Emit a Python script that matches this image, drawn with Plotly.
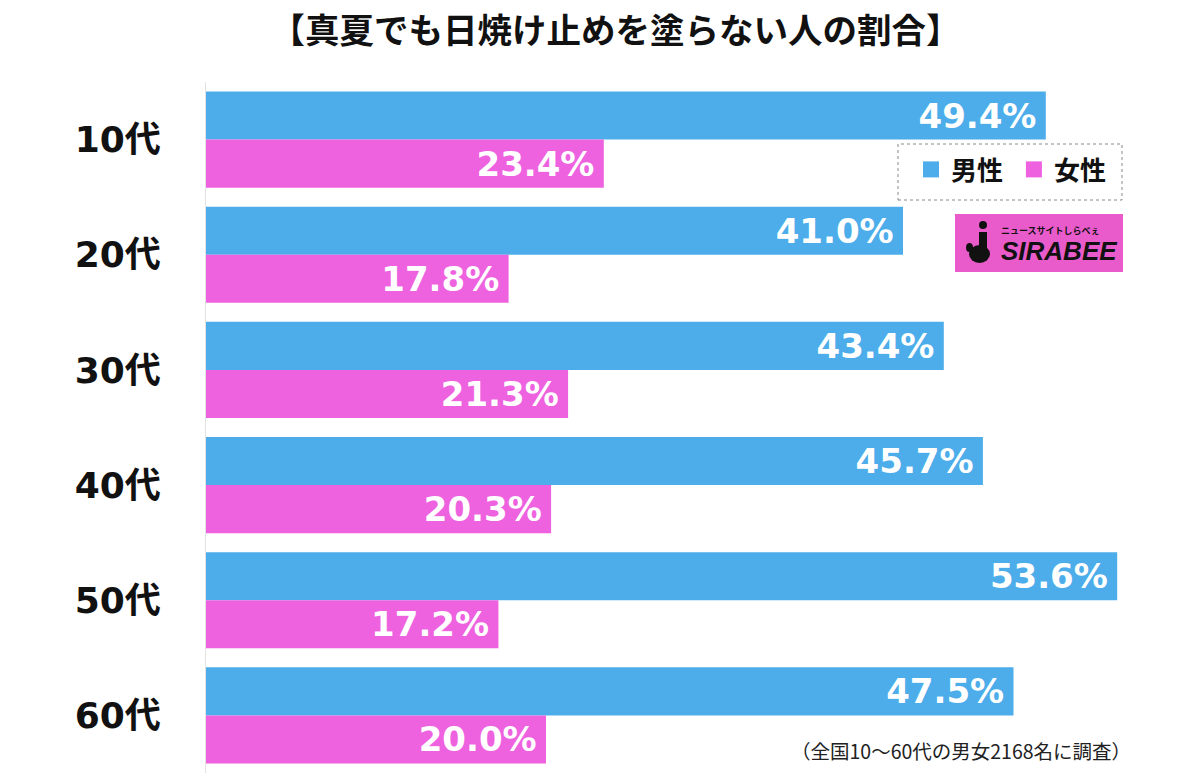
import plotly.graph_objects as go

categories = ["10代", "20代", "30代", "40代", "50代", "60代"]
male = [49.4, 41.0, 43.4, 45.7, 53.6, 47.5]
female = [23.4, 17.8, 21.3, 20.3, 17.2, 20.0]
series_names = ["男性", "女性"]
title = "【真夏でも日焼け止めを塗らない人の割合】"
note = "（全国10〜60代の男女2168名に調査）"

BLUE = "#4CADEA"
PINK = "#EE62DF"
NUMFONT = "DejaVu Sans, Noto Sans CJK JP"
JPFONT = "Noto Sans CJK JP"

L, R, T, B = 206, 8, 82, 6
PW, PH = 1200 - L - R, 779 - T - B


def px(x):
    return (x - L) / PW


def py(y):
    return (779 - B - y) / PH


fig = go.Figure()
for name, vals, col in [(series_names[0], male, BLUE), (series_names[1], female, PINK)]:
    fig.add_trace(go.Bar(
        y=categories, x=vals, name=name, orientation="h",
        marker=dict(color=col, line=dict(width=0)),
        text=[f"<b>{v:.1f}%</b><span style='font-size:20px'>&nbsp;</span>" for v in vals],
        textposition="inside", insidetextanchor="end", constraintext="none",
        textfont=dict(family=NUMFONT, size=34, color="white"),
        cliponaxis=False, showlegend=False,
    ))
# legend entries
legend_labels = [series_names[0] + "\u00a0", series_names[1]]
for name, col in [(legend_labels[0], BLUE), (legend_labels[1], PINK)]:
    fig.add_trace(go.Scatter(x=[None], y=[None], mode="markers", name=name,
                             marker=dict(symbol="square", size=16, color=col),
                             showlegend=True))

fig.update_layout(
    width=1200, height=779,
    paper_bgcolor="white", plot_bgcolor="white",
    margin=dict(l=L, r=R, t=T, b=B),
    barmode="group", bargap=0.165, bargroupgap=0,
    legend=dict(orientation="h", x=px(911), y=py(146), xanchor="left", yanchor="top",
                bgcolor="rgba(0,0,0,0)", font=dict(family=JPFONT, size=26, color="#111", weight="bold"),
                itemwidth=30, traceorder="normal", itemsizing="trace"),
    title=dict(text="<b>" + title + "</b>", x=0.513, xanchor="center", y=0.96, yanchor="middle",
               font=dict(family=JPFONT, size=34.5, color="#111")),
)
fig.update_xaxes(range=[0, 58], visible=False, fixedrange=True, automargin=False)
fig.update_yaxes(range=[5.5, -0.5], autorange=False, automargin=False,
                 showline=True, linecolor="#e2e2e2", linewidth=1,
                 ticks="", showgrid=False, ticklabelstandoff=37,
                 tickfont=dict(family=NUMFONT, size=36, color="#111"),
                 tickvals=categories, ticktext=[f"<b>{c}</b>" for c in categories])

# dashed legend border
fig.add_shape(type="rect", xref="paper", yref="paper",
              x0=px(898), x1=px(1122), y0=py(200), y1=py(144),
              line=dict(color="#888", width=1, dash="dot"))
# logo
fig.add_shape(type="rect", xref="paper", yref="paper",
              x0=px(955), x1=px(1123), y0=py(272), y1=py(214),
              fillcolor="#E95BCB", line=dict(width=0))
fig.add_annotation(xref="paper", yref="paper", x=px(1119), y=py(251),
                   text="<b><i>SIRABEE</i></b>", showarrow=False, xanchor="right", yanchor="middle",
                   font=dict(family="Liberation Sans", size=26, color="#111"))
fig.add_annotation(xref="paper", yref="paper", x=px(1102), y=py(231),
                   text="<b>ニュースサイトしらべぇ</b>", showarrow=False, xanchor="right", yanchor="middle",
                   font=dict(family=JPFONT, size=9, color="#111"))
# logo mark
fig.add_shape(type="circle", xref="paper", yref="paper",
              x0=px(979), x1=px(987), y0=py(229), y1=py(221),
              fillcolor="#111", line=dict(width=0))
fig.add_shape(type="rect", xref="paper", yref="paper",
              x0=px(979), x1=px(987), y0=py(254), y1=py(232),
              fillcolor="#111", line=dict(width=0))
fig.add_shape(type="circle", xref="paper", yref="paper",
              x0=px(969), x1=px(990), y0=py(263), y1=py(245),
              fillcolor="#111", line=dict(width=0))
fig.add_shape(type="circle", xref="paper", yref="paper",
              x0=px(966), x1=px(973), y0=py(252), y1=py(243),
              fillcolor="#111", line=dict(width=0))
# note
fig.add_annotation(xref="paper", yref="paper", x=px(1133), y=py(750),
                   text=note, showarrow=False, xanchor="right", yanchor="middle",
                   font=dict(family=JPFONT, size=19.5, color="#222"))

fig.write_html("out.html", config={"displayModeBar": False},
               post_script="document.body.style.margin='0';document.body.style.padding='0';")
